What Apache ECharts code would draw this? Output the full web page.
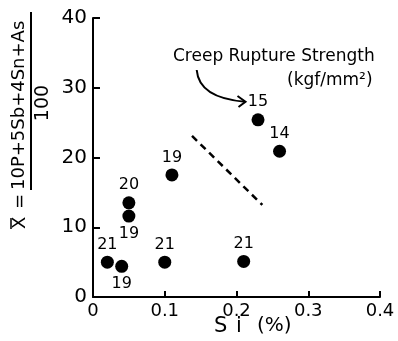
<!DOCTYPE html>
<html>
<head>
<meta charset="utf-8">
<script src="https://cdn.jsdelivr.net/npm/echarts@6/dist/echarts.min.js"></script>
<style>
html,body{margin:0;padding:0;background:#fff;}
#chart{width:398px;height:341px;}
</style>
</head>
<body>
<div id="chart"></div>
<script>
// Data
const siPercent = [0.02, 0.04, 0.05, 0.05, 0.11, 0.10, 0.21, 0.23, 0.26];
const xBarValues = [5.0, 4.4, 13.5, 11.6, 17.5, 5.0, 5.1, 25.4, 20.9];
const ruptureStrength = [21, 19, 20, 19, 19, 21, 21, 15, 14];
const xTickLabels = ['0', '0.1', '0.2', '0.3', '0.4'];
const yTickLabels = ['0', '10', '20', '30', '40'];
const boundaryLine = [[0.138, 23.1], [0.236, 13.2]];

// styling: which point labels sit below the marker
const labelsBelow = [1, 3];

const FONT = 'DejaVu Sans';
const chart = echarts.init(document.getElementById('chart'), null, {renderer: 'canvas'});

const points = siPercent.map((x, i) => ({
  value: [x, xBarValues[i]],
  label: {
    show: true,
    formatter: String(ruptureStrength[i]),
    position: labelsBelow.includes(i) ? 'bottom' : 'top',
    distance: 3
  }
}));

const option = {
  animation: false,
  backgroundColor: '#fff',
  grid: {left: 93, right: 18, top: 18, bottom: 44},
  xAxis: {
    type: 'value', min: 0, max: 0.4, interval: 0.1,
    axisLine: {show: true, onZero: false, lineStyle: {color: '#000', width: 2}},
    axisTick: {show: true, inside: true, length: 6, lineStyle: {color: '#000', width: 2}},
    splitLine: {show: false},
    axisLabel: {
      color: '#000', fontFamily: FONT, fontSize: 18, margin: 5,
      formatter: v => xTickLabels[Math.round(v / 0.1)]
    }
  },
  yAxis: {
    type: 'value', min: 0, max: 40, interval: 10,
    axisLine: {show: true, onZero: false, lineStyle: {color: '#000', width: 2}},
    axisTick: {show: true, inside: true, length: 7, lineStyle: {color: '#000', width: 2}},
    splitLine: {show: false},
    axisLabel: {
      color: '#000', fontFamily: FONT, fontSize: 20, margin: 6,
      formatter: v => yTickLabels[Math.round(v / 10)]
    }
  },
  series: [{
    type: 'scatter',
    symbol: 'circle',
    symbolSize: 13,
    itemStyle: {color: '#000', opacity: 1},
    label: {color: '#000', fontFamily: FONT, fontSize: 16},
    data: points,
    markLine: {
      silent: true,
      symbol: ['none', 'none'],
      label: {show: false},
      lineStyle: {color: '#000', width: 2.5, type: [7, 5], opacity: 1},
      data: [[{coord: boundaryLine[0]}, {coord: boundaryLine[1]}]]
    }
  }],
  graphic: [
    {
      type: 'group', x: 0, y: 230, rotation: Math.PI / 2,
      children: [
        {type: 'text', x: 1, y: 11, style: {text: 'X', font: '18px "DejaVu Sans"', fill: '#000', align: 'left', verticalAlign: 'top'}},
        {type: 'line', shape: {x1: 1, y1: 11, x2: 12, y2: 11}, style: {stroke: '#000', lineWidth: 1.5}},
        {type: 'text', x: 21, y: 11, style: {text: '=', font: '18px "DejaVu Sans"', fill: '#000', align: 'left', verticalAlign: 'top'}},
        {type: 'text', x: 40, y: 10, style: {text: '10P+5Sb+4Sn+As', font: '18px "DejaVu Sans"', fill: '#000', align: 'left', verticalAlign: 'top'}},
        {type: 'line', shape: {x1: 40, y1: 31, x2: 218, y2: 31}, style: {stroke: '#000', lineWidth: 2}},
        {type: 'text', x: 127, y: 34, style: {text: '100', font: '19px "DejaVu Sans"', fill: '#000', align: 'center', verticalAlign: 'top'}}
      ]
    },
    {type: 'text', left: 214, top: 316, style: {text: 'S', font: '21px "DejaVu Sans"', fill: '#000'}},
    {type: 'text', left: 236, top: 316, style: {text: 'i', font: '21px "DejaVu Sans"', fill: '#000'}},
    {type: 'text', left: 257, top: 316, style: {text: '(%)', font: '20px "DejaVu Sans"', fill: '#000'}},
    {type: 'text', left: 173, top: 48, style: {text: 'Creep Rupture Strength', font: '17px "DejaVu Sans"', fill: '#000'}},
    {type: 'text', left: 287, top: 72, style: {text: '(kgf/mm²)', font: '17px "DejaVu Sans"', fill: '#000'}},
    {type: 'bezierCurve', shape: {x1: 196.7, y1: 70, x2: 245, y2: 101.7, cpx1: 199, cpy1: 98}, style: {stroke: '#000', lineWidth: 2, fill: null}},
    {type: 'polyline', shape: {points: [[237.5, 96], [245.5, 101.7], [238.5, 107]]}, style: {stroke: '#000', lineWidth: 2, fill: null}}
  ]
};
chart.setOption(option);
</script>
</body>
</html>
